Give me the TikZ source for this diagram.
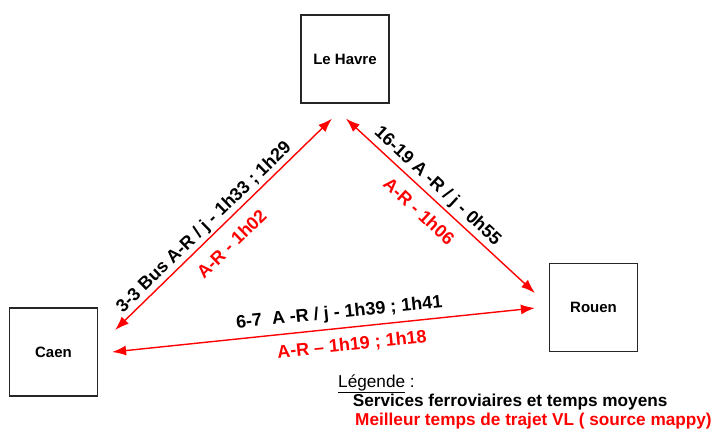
\documentclass[tikz,border=0pt]{standalone}
\usepackage{fontspec}
\setmainfont{Liberation Sans}
\usetikzlibrary{arrows.meta}

\begin{document}
\begin{tikzpicture}[x=1pt, y=-1pt,
    town/.style={draw=black!85, line width=1.2pt, minimum width=88pt, minimum height=88pt, inner sep=0pt, font=\fontsize{15}{17}\selectfont\bfseries},
    link/.style={red, line width=1.4pt, {Latex[length=14pt,width=10pt]}-{Latex[length=14pt,width=10pt]}},
    rail/.style={font=\fontsize{18}{20}\selectfont\bfseries, text=black, sloped, inner xsep=0pt},
    road/.style={rail, text=red},
    key/.style={anchor=base west, inner sep=0pt, font=\fontsize{17.2}{19}\selectfont\bfseries}]
  \useasboundingbox (0,0) rectangle (711,429);

  \node[town] (havre) at (345,59) {Le Havre};
  \node[town] (caen) at (53.5,352) {Caen};
  \node[town] (rouen) at (593.5,307.5) {Rouen};

  % free ends of the links, a little away from the boxes
  \coordinate (caenNE) at ([shift={(17,-22)}]caen.east);
  \coordinate (caenE) at ([shift={(14,0)}]caen.east);
  \coordinate (havreSW) at ([shift={(-13,15)}]havre.south);
  \coordinate (havreSE) at ([shift={(1,15)}]havre.south);
  \coordinate (rouenNW) at ([shift={(-14,-14.5)}]rouen.west);
  \coordinate (rouenW) at ([shift={(-14,0.5)}]rouen.west);

  \draw[link] (caenNE) -- node[rail, above, inner ysep=2pt, pos=.447] {3-3 Bus A-R / j - 1h33 ; 1h29}
                          node[road, below, inner ysep=12pt, pos=.474] {A-R - 1h02} (havreSW);
  \draw[link] (havreSE) -- node[rail, above, inner ysep=3pt, pos=.44] {16-19 A -R / j - 0h55}
                           node[road, below, inner ysep=11pt, pos=.453] {A-R - 1h06} (rouenNW);
  \draw[link] (caenE) -- node[rail, above, inner ysep=6pt, pos=.541] {6-7\ \ A -R / j - 1h39 ; 1h41}
                         node[road, below, inner ysep=9.5pt, pos=.563] {A-R -- 1h19 ; 1h18} (rouenW);

  % legend
  \node[key, font=\fontsize{17.2}{19}\selectfont] (legend) at (338,387.5) {\underline{Légende} :};
  \node[key] (railkey) at (352.7,406.5) {Services ferroviaires et temps moyens};
  \node[key, text=red] (roadkey) at (355,425) {Meilleur temps de trajet VL ( source mappy)};
\end{tikzpicture}
\end{document}
